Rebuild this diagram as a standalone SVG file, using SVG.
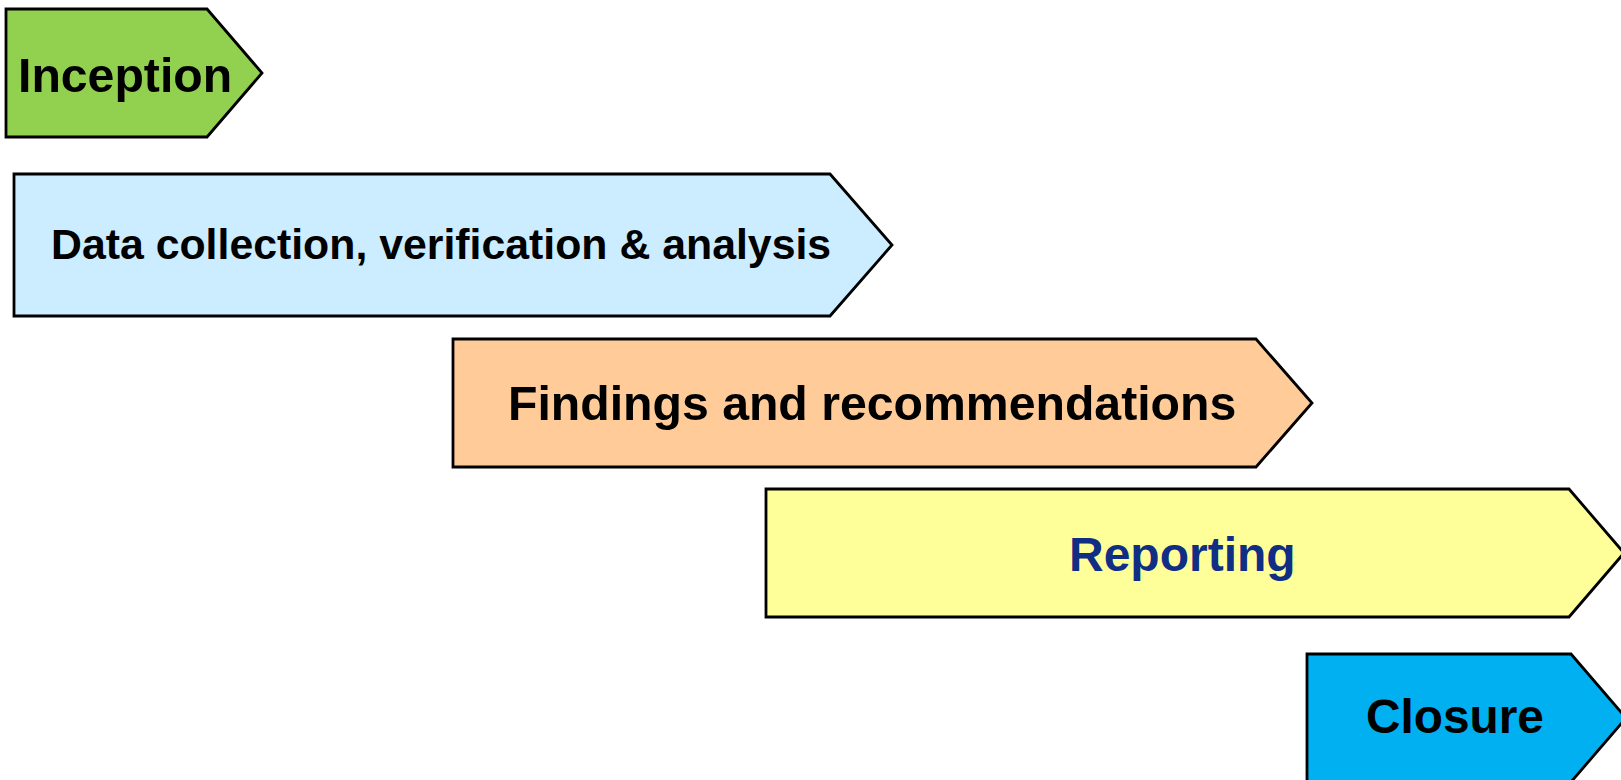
<svg xmlns="http://www.w3.org/2000/svg" width="1621" height="780" viewBox="0 0 1621 780">
<style>
.shape{stroke:#000;stroke-width:2.8;stroke-linejoin:miter}
.lbl{font-family:"Liberation Sans",Arial,sans-serif;font-weight:bold;fill:#000}
</style>
<rect width="1621" height="780" fill="#fff"/>
<g id="connectors"></g>
<g id="inception">
<path class="shape" fill="#92D050" d="M6,9 H207 L262,73 L207,137 H6 Z"/>
<text class="lbl" x="18" y="92" font-size="48.2">Inception</text>
</g>
<g id="data">
<path class="shape" fill="#CCECFF" d="M14,174 H830 L892,245 L830,316 H14 Z"/>
<text class="lbl" x="51" y="259" font-size="42.8">Data collection, verification &amp; analysis</text>
</g>
<g id="findings">
<path class="shape" fill="#FFCC99" d="M453,339 H1256 L1312,403 L1256,467 H453 Z"/>
<text class="lbl" x="508" y="420" font-size="48.2">Findings and recommendations</text>
</g>
<g id="reporting">
<path class="shape" fill="#FFFF99" d="M766,489 H1569 L1624,553 L1569,617 H766 Z"/>
<text class="lbl" x="1069" y="571" font-size="48" style="fill:#102F84">Reporting</text>
</g>
<g id="closure">
<path class="shape" fill="#00B0F0" d="M1307,654 H1571 L1626,718 L1571,782 H1307 Z"/>
<text class="lbl" x="1366" y="733" font-size="47.8">Closure</text>
</g>
</svg>
